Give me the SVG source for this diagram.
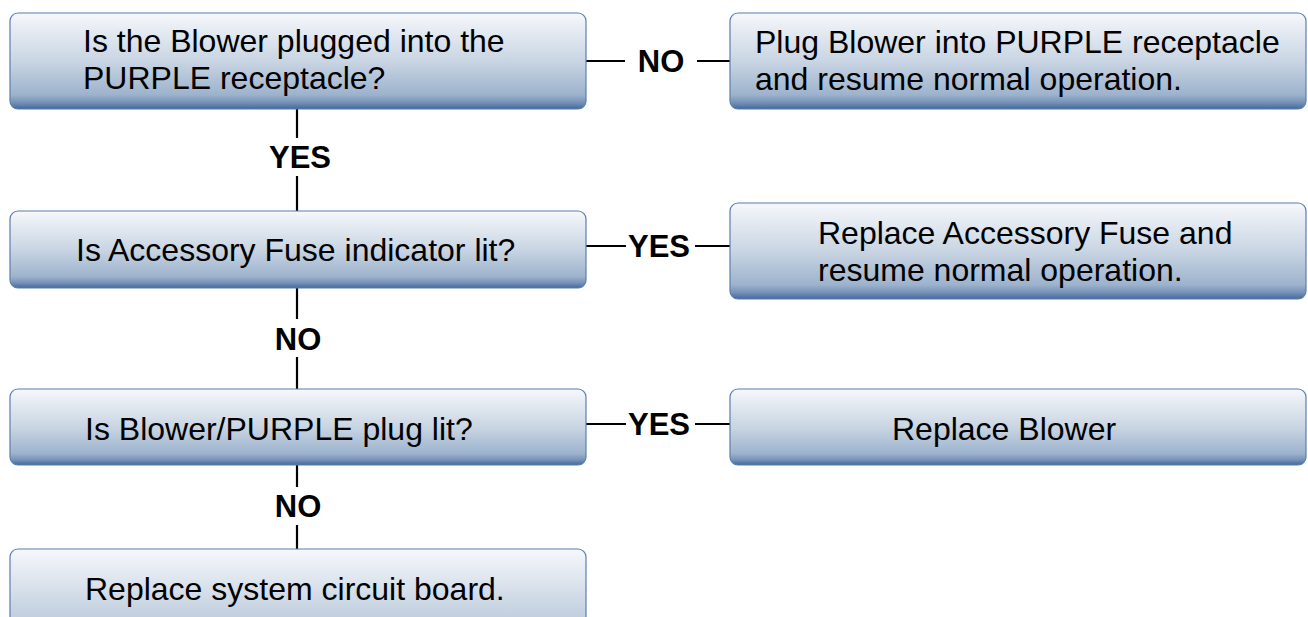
<svg xmlns="http://www.w3.org/2000/svg" width="1308" height="617" viewBox="0 0 1308 617">
<defs>
<linearGradient id="g" x1="0" y1="0" x2="0" y2="1">
<stop offset="0" stop-color="#f6f8fb"/>
<stop offset="0.5" stop-color="#c9d5e3"/>
<stop offset="0.85" stop-color="#9db3cd"/>
<stop offset="0.93" stop-color="#7893b8"/>
<stop offset="1" stop-color="#42699b"/>
</linearGradient>
<linearGradient id="g4" x1="0" y1="0" x2="0" y2="1">
<stop offset="0" stop-color="#f6f8fb"/>
<stop offset="0.6" stop-color="#c9d5e3"/>
<stop offset="1" stop-color="#aebfd5"/>
</linearGradient>
</defs>
<style>
.box{fill:url(#g);stroke:#5a7fae;stroke-width:1.2}
.t{font-family:"Liberation Sans",Arial,Helvetica,sans-serif;font-size:32px;fill:#000}
.l{font-family:"Liberation Sans",Arial,Helvetica,sans-serif;font-size:31px;font-weight:bold;fill:#000;text-anchor:middle}
.c{stroke:#000;stroke-width:2.2;fill:none}
</style>
<rect x="0" y="0" width="1308" height="617" fill="#fff"/>
<g id="connectors">
<line class="c" x1="297" y1="109" x2="297" y2="138"/>
<line class="c" x1="297" y1="176" x2="297" y2="211"/>
<text class="l" x="300" y="168">YES</text>
<line class="c" x1="297" y1="288" x2="297" y2="319"/>
<line class="c" x1="297" y1="357" x2="297" y2="389"/>
<text class="l" x="298" y="350">NO</text>
<line class="c" x1="297" y1="465" x2="297" y2="487"/>
<line class="c" x1="297" y1="525" x2="297" y2="549"/>
<text class="l" x="298" y="517">NO</text>
<line class="c" x1="586" y1="61" x2="625" y2="61"/>
<line class="c" x1="697" y1="61" x2="730" y2="61"/>
<text class="l" x="661" y="72">NO</text>
<line class="c" x1="586" y1="246" x2="626" y2="246"/>
<line class="c" x1="695" y1="246" x2="730" y2="246"/>
<text class="l" x="659" y="257">YES</text>
<line class="c" x1="586" y1="424" x2="626" y2="424"/>
<line class="c" x1="695" y1="424" x2="730" y2="424"/>
<text class="l" x="659" y="435">YES</text>
</g>
<g id="q1">
<rect class="box" x="10" y="13" width="576" height="96" rx="8"/>
<text class="t" x="83" y="52">Is the Blower plugged into the</text>
<text class="t" x="83" y="89">PURPLE receptacle?</text>
</g>
<g id="a1">
<rect class="box" x="730" y="13" width="576" height="96" rx="8"/>
<text class="t" x="755" y="53">Plug Blower into PURPLE receptacle</text>
<text class="t" x="755" y="90">and resume normal operation.</text>
</g>
<g id="q2">
<rect class="box" x="10" y="211" width="576" height="77" rx="8"/>
<text class="t" x="76" y="261">Is Accessory Fuse indicator lit?</text>
</g>
<g id="a2">
<rect class="box" x="730" y="203" width="576" height="96" rx="8"/>
<text class="t" x="818" y="244">Replace Accessory Fuse and</text>
<text class="t" x="818" y="281">resume normal operation.</text>
</g>
<g id="q3">
<rect class="box" x="10" y="389" width="576" height="76" rx="8"/>
<text class="t" x="85" y="440">Is Blower/PURPLE plug lit?</text>
</g>
<g id="a3">
<rect class="box" x="730" y="389" width="576" height="76" rx="8"/>
<text class="t" x="892" y="440">Replace Blower</text>
</g>
<g id="end">
<rect x="10" y="549" width="576" height="96" rx="8" fill="url(#g4)" stroke="#5a7fae" stroke-width="1.2"/>
<text class="t" x="85" y="600">Replace system circuit board.</text>
</g>
</svg>
